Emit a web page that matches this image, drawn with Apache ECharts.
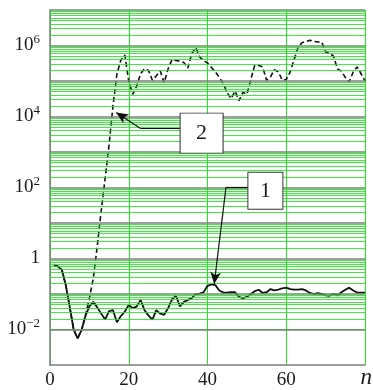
<!DOCTYPE html>
<html><head><meta charset="utf-8">
<script src="https://cdn.jsdelivr.net/npm/echarts@6/dist/echarts.min.js"></script>
<style>html,body{margin:0;padding:0;background:#fff}#c{width:373px;height:390px}</style>
</head><body><div id="c"></div>
<script>
// step index n
const nValues = [1,2,3,4,5,6,7,8,9,10,11,12,13,14,15,16,17,18,19,20,
  21,22,23,24,25,26,27,28,29,30,31,32,33,34,35,36,37,38,39,40,
  41,42,43,44,45,46,47,48,49,50,51,52,53,54,55,56,57,58,59,60,
  61,62,63,64,65,66,67,68,69,70,71,72,73,74,75,76,77,78,79,80];
// curve 1 (solid)
const curve1 = [0.65,0.60,0.48,0.18,0.044,0.010,0.0056,0.0095,0.024,0.045,
  0.060,0.042,0.028,0.019,0.033,0.035,0.016,0.024,0.032,0.049,
  0.040,0.044,0.068,0.035,0.025,0.019,0.035,0.028,0.026,0.040,
  0.071,0.089,0.045,0.060,0.068,0.076,0.100,0.102,0.112,0.170,
  0.186,0.178,0.126,0.110,0.110,0.112,0.112,0.083,0.076,0.083,
  0.100,0.120,0.132,0.107,0.112,0.138,0.126,0.132,0.145,0.151,
  0.138,0.132,0.132,0.138,0.126,0.107,0.100,0.105,0.100,0.091,
  0.089,0.100,0.091,0.112,0.132,0.151,0.126,0.110,0.110,0.110];
// curve 2 (dashed)
const curve2 = [0.65,0.60,0.48,0.18,0.044,0.010,0.0056,0.0095,0.025,0.075,
  0.28,2.2,22,180,1600,2.0e4,1.6e5,3.9e5,5.4e5,1.0e5,
  4.2e4,7.1e4,1.6e5,2.2e5,2.0e5,1.05e5,1.4e5,1.9e5,8.9e4,2.2e5,
  4.0e5,3.8e5,3.6e5,3.3e5,2.3e5,5.9e5,8.9e5,4.8e5,3.8e5,3.2e5,
  2.4e5,1.8e5,1.26e5,8.5e4,4.7e4,3.2e4,5.2e4,2.8e4,4.8e4,4.2e4,
  1.1e5,2.8e5,2.75e5,2.5e5,1.05e5,1.3e5,2.1e5,1.8e5,1.05e5,1.1e5,
  1.8e5,4.0e5,8.9e5,1.2e6,1.3e6,1.4e6,1.3e6,1.26e6,1.26e6,6.6e5,
  6.0e5,5.0e5,2.2e5,1.9e5,1.26e5,9.5e4,1.8e5,2.5e5,1.6e5,1.0e5];
const xTickLabels = ['0','20','40','60'];
const yLabelExponents = [-2,0,2,4,6];
const decadeExponents = [-3,-2,-1,0,1,2,3,4,5,6,7];
const minorMantissas = [2,3,4,5,6,7,8,9];
const minorDecades = [-3,-2,-1,0,1,2,3,4,5,6];
// annotation boxes and leader lines in data units [n, value]
const boxes = [{name:'1', coord:[54.7,81], size:[35,37]}, {name:'2', coord:[38.5,3400], size:[43,40]}];
const leader1 = [[50.3,102],[44.7,102],[41.7,0.19]];
const leader2 = [[33.0,4700],[22.9,4700],[16.8,1.3e4]];

const FONT = 'Liberation Serif';
const GREEN = '#1ee81e';
const GRAY = '#7f7f7f';

const minorLines = [];
minorDecades.forEach(d => minorMantissas.forEach(m => {
  minorLines.push({yAxis: Number((m * Math.pow(10, d)).toPrecision(3))});
}));
const decadeLines = decadeExponents.map(e => ({yAxis: Number(Math.pow(10, e).toPrecision(3))}));

function pairs(ys){ return nValues.map((n,i)=>[n, ys[i]]); }
function leaderLines(p){
  return [
    [{coord:p[0], symbol:'none'}, {coord:p[1], symbol:'none'}],
    [{coord:p[1], symbol:'none'}, {coord:p[2], symbol:'arrow', symbolSize:[8,12]}]
  ];
}

const chart = echarts.init(document.getElementById('c'), null, {renderer:'canvas'});
chart.setOption({
  animation:false,
  backgroundColor:'#fff',
  grid:{left:50, right:8, top:10, bottom:25},
  xAxis:{
    type:'value', min:0, max:80, interval:20,
    axisLine:{show:true, lineStyle:{color:GRAY, width:1.5}},
    axisTick:{show:false},
    splitLine:{show:true, lineStyle:{color:GREEN, width:1}},
    axisLabel:{margin:6, fontFamily:FONT, fontSize:19, color:'#1a1a1a',
      formatter:function(v){ const s=String(v); return xTickLabels.indexOf(s)>=0 ? s : ''; }}
  },
  yAxis:{
    type:'log', logBase:10, min:0.001, max:1e7, interval:1,
    axisLine:{show:true, lineStyle:{color:GRAY, width:1.5}},
    axisTick:{show:false},
    splitLine:{show:false},
    axisLabel:{margin:10, color:'#1a1a1a', hideOverlap:false,
      formatter:function(v){
        const l = Math.log10(v);
        const e = Math.round(l);
        if (Math.abs(l - e) > 1e-6) return '';
        if (yLabelExponents.indexOf(e) < 0) return '';
        if (e === 0) return '{b|1}';
        return '{b|10}{s|' + (e<0 ? '\u2212' : '') + Math.abs(e) + '}';
      },
      rich:{
        b:{fontFamily:FONT, fontSize:19, lineHeight:24, color:'#1a1a1a'},
        s:{fontFamily:FONT, fontSize:13, verticalAlign:'top', color:'#1a1a1a'}
      }
    }
  },
  graphic:[{type:'text', right:1, bottom:1, style:{text:'n', font:'italic 23px "Liberation Serif"', fill:'#1a1a1a'}}],
  series:[
    {type:'line', data:[], z:1, silent:true,
      markLine:{silent:true, symbol:['none','none'], animation:false, label:{show:false},
        lineStyle:{color:GREEN, width:1.2, type:'solid', opacity:0.85}, emphasis:{disabled:true}, data:minorLines}},
    {type:'line', data:[], z:2, silent:true,
      markLine:{silent:true, symbol:['none','none'], animation:false, label:{show:false},
        lineStyle:{color:GRAY, width:1.5, type:'solid'}, emphasis:{disabled:true}, data:decadeLines}},
    {name:'1', type:'line', data:pairs(curve1), showSymbol:false, z:3,
      lineStyle:{color:'#111', width:1.8}, itemStyle:{color:'#111'}},
    {name:'2', type:'line', data:pairs(curve2), showSymbol:false, z:3,
      lineStyle:{color:'#111', width:1.6, type:[5,3]}, itemStyle:{color:'#111'}},
    {type:'line', data:[], z:5, silent:true,
      markLine:{silent:true, animation:false, label:{show:false}, emphasis:{disabled:true},
        lineStyle:{color:'#111', width:1.2, type:'solid'}, itemStyle:{color:'#111'},
        data:leaderLines(leader1).concat(leaderLines(leader2))},
      markPoint:{silent:true, animation:false, symbol:'rect',
        itemStyle:{color:'#fff', borderColor:'#333', borderWidth:1},
        label:{show:true, position:'inside', color:'#1a1a1a', fontFamily:FONT, fontSize:22, formatter:'{b}'},
        data:boxes.map(b=>({name:b.name, coord:b.coord, symbolSize:b.size}))}
    }
  ]
});
</script></body></html>
